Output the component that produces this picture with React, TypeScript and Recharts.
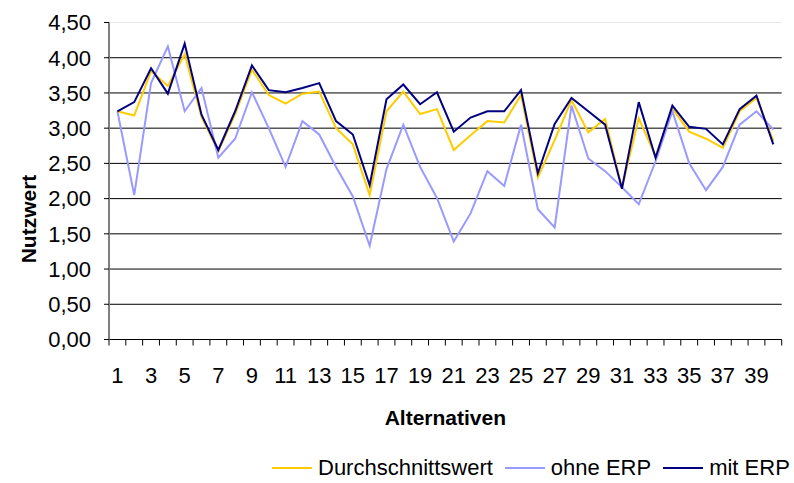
import {
  CartesianGrid,
  Legend,
  Line,
  LineChart,
  ReferenceLine,
  XAxis,
  YAxis,
} from "recharts";

const alternatives = [
  1, 2, 3, 4, 5, 6, 7, 8, 9, 10, 11, 12, 13, 14, 15, 16, 17, 18, 19, 20,
  21, 22, 23, 24, 25, 26, 27, 28, 29, 30, 31, 32, 33, 34, 35, 36, 37, 38, 39, 40,
];

const durchschnittswert = [
  3.24, 3.18, 3.81, 3.6, 4.05, 3.16, 2.67, 3.2, 3.83, 3.47,
  3.35, 3.49, 3.52, 3.0, 2.77, 2.05, 3.24, 3.52, 3.2, 3.27,
  2.69, 2.9, 3.1, 3.08, 3.47, 2.3, 2.83, 3.4, 2.94, 3.13,
  2.15, 3.14, 2.6, 3.28, 2.95, 2.85, 2.72, 3.24, 3.43, 2.82,
];

const ohneErp = [
  3.24, 2.05, 3.64, 4.16, 3.24, 3.57, 2.58, 2.85, 3.51, 3.0,
  2.45, 3.1, 2.91, 2.45, 2.03, 1.33, 2.42, 3.05, 2.45, 2.01,
  1.39, 1.79, 2.39, 2.18, 3.05, 1.85, 1.59, 3.32, 2.57, 2.39,
  2.16, 1.92, 2.53, 3.24, 2.5, 2.12, 2.45, 3.05, 3.24, 2.98,
];

const mitErp = [
  3.24, 3.37, 3.85, 3.49, 4.2, 3.19, 2.69, 3.24, 3.89, 3.54,
  3.51, 3.57, 3.64, 3.1, 2.91, 2.19, 3.41, 3.62, 3.34, 3.51,
  2.95, 3.15, 3.24, 3.24, 3.54, 2.36, 3.06, 3.43, 3.24, 3.05,
  2.14, 3.37, 2.58, 3.32, 3.02, 2.99, 2.77, 3.27, 3.46, 2.77,
];

const yTicks = [0, 0.5, 1, 1.5, 2, 2.5, 3, 3.5, 4, 4.5];
const gridValues = [0.5, 1, 1.5, 2, 2.5, 3, 3.5, 4];
const xLabelTicks = [1, 3, 5, 7, 9, 11, 13, 15, 17, 19, 21, 23, 25, 27, 29, 31, 33, 35, 37, 39];

const seriesInfo = [
  { key: "avg", name: "Durchschnittswert", color: "#FFCC00" },
  { key: "ohne", name: "ohne ERP", color: "#9999FF" },
  { key: "mit", name: "mit ERP", color: "#000080" },
];

const data = alternatives.map((x, i) => ({
  x,
  avg: durchschnittswert[i],
  ohne: ohneErp[i],
  mit: mitErp[i],
}));

// tick marks sit between the categories, like the original spreadsheet chart
const boundaryTicks = alternatives.map((a) => a - 0.5).concat(alternatives.length + 0.5);

const font = '"Liberation Sans", Arial, sans-serif';

function formatDe(value: number) {
  return Number(value).toFixed(2).replace(".", ",");
}

function ChartLegend() {
  return (
    <div style={{ display: "flex", alignItems: "center", fontFamily: font, fontSize: 22 }}>
      {seriesInfo.map((s) => (
        <div key={s.key} style={{ display: "flex", alignItems: "center", marginRight: 12 }}>
          <svg width={40} height={4} style={{ marginRight: 6 }}>
            <line x1={0} y1={2} x2={40} y2={2} stroke={s.color} strokeWidth={2} />
          </svg>
          <span style={{ color: "#000", lineHeight: "26px" }}>{s.name}</span>
        </div>
      ))}
    </div>
  );
}

export default function App() {
  return (
    <div style={{ position: "absolute", left: 0, top: 0, width: 794, height: 483, background: "#fff" }}>
      <LineChart
        width={794}
        height={483}
        data={data}
        margin={{ top: 22.5, right: 12.3, left: 0, bottom: 47.5 }}
        style={{ fontFamily: font }}
      >
        <CartesianGrid
          xAxisId="a"
          vertical={false}
          horizontalValues={gridValues}
          stroke="#000"
          strokeWidth={1}
        />
        <ReferenceLine xAxisId="a" y={4.5} stroke="#e8e8e8" strokeWidth={1} />
        <XAxis
          xAxisId="a"
          type="number"
          dataKey="x"
          domain={[0.5, 40.5]}
          ticks={boundaryTicks}
          interval={0}
          allowDataOverflow
          height={6}
          tickSize={6}
          tickFormatter={() => ""}
          axisLine={{ stroke: "#000", strokeWidth: 1 }}
          tickLine={{ stroke: "#000", strokeWidth: 1 }}
        />
        <XAxis
          xAxisId="b"
          type="number"
          dataKey="x"
          domain={[0.5, 40.5]}
          ticks={xLabelTicks}
          interval={0}
          allowDataOverflow
          height={90}
          tickSize={0}
          tickMargin={22}
          axisLine={false}
          tickLine={false}
          tick={{ fill: "#000", fontSize: 22, fontFamily: font }}
          label={(props: any) => {
            const vb = props.viewBox;
            return (
              <text
                x={vb.x + vb.width / 2}
                y={425}
                textAnchor="middle"
                fontFamily={font}
                fontSize={21}
                fontWeight="bold"
                fill="#000"
              >
                Alternativen
              </text>
            );
          }}
        />
        <YAxis
          width={109}
          domain={[0, 4.5]}
          ticks={yTicks}
          interval={0}
          tickFormatter={formatDe}
          tickSize={5}
          tickMargin={13}
          axisLine={{ stroke: "#808080", strokeWidth: 2 }}
          tickLine={{ stroke: "#000", strokeWidth: 1 }}
          tick={{ fill: "#000", fontSize: 22, fontFamily: font }}
          label={() => (
            <text
              x={36}
              y={219}
              transform="rotate(-90, 36, 219)"
              textAnchor="middle"
              fontFamily={font}
              fontSize={21}
              fontWeight="bold"
              fill="#000"
            >
              Nutzwert
            </text>
          )}
        />
        <Legend
          layout="horizontal"
          verticalAlign="middle"
          align="center"
          content={() => <ChartLegend />}
          wrapperStyle={{ left: 272, top: 455, width: 530, height: 28 }}
        />
        {seriesInfo.map((s) => (
          <Line
            key={s.key}
            xAxisId="a"
            type="linear"
            dataKey={s.key}
            name={s.name}
            stroke={s.color}
            strokeWidth={2}
            dot={false}
            activeDot={false}
            isAnimationActive={false}
          />
        ))}
      </LineChart>
    </div>
  );
}
